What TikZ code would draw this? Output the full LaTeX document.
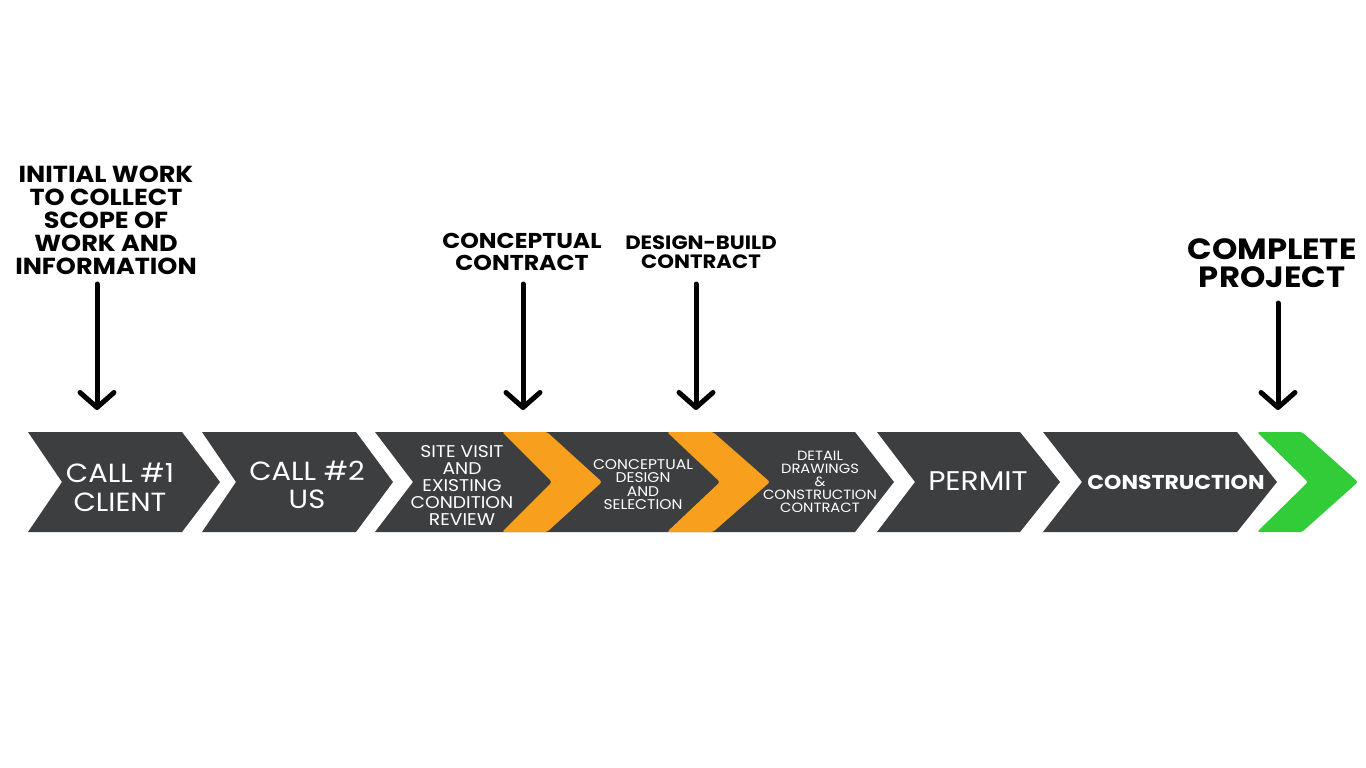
\documentclass[tikz,border=0pt]{standalone}
\usepackage{fontspec}
\setmainfont{Poppins}[FakeStretch=1.1]
\usetikzlibrary{arrows.meta}
\definecolor{stepgrey}{RGB}{61,62,64}
\definecolor{markorange}{RGB}{248,160,30}
\definecolor{donegreen}{RGB}{50,204,56}

\begin{document}
\begin{tikzpicture}[x=1pt,y=-1pt,
  chev/.style={fill=stepgrey,draw=none},
  band/.style={draw=none,rounded corners=2.5},
  steptext/.style={text=white,align=center,inner sep=0pt},
  calltext/.style={text=black,align=center,inner sep=0pt,font=\bfseries},
  pointer/.style={line width=5,line cap=round,-{Straight Barb[length=15pt,width=34pt,line cap=round,line join=round]}}]
%set diagram size to the reference
\useasboundingbox (0,0) rectangle (1366,768);
\fill[white] (0,0) rectangle (1366,768);

%Chevron: call 1
\fill[chev] (28,432) -- (182,432) -- (220,482) -- (182,532) -- (28,532) -- (62,482) -- cycle;
%Chevron: call 2
\fill[chev] (202,432) -- (356,432) -- (393,482) -- (356,532) -- (202,532) -- (236,482) -- cycle;
%Chevron: site visit, design, drawings (one strip)
\fill[chev] (375,432) -- (855,432) -- (894,482) -- (855,532) -- (375,532) -- (413,482) -- cycle;
%Chevron: permit
\fill[chev] (877,432) -- (1020,432) -- (1060,482) -- (1020,532) -- (877,532) -- (915,482) -- cycle;
%Chevron: construction
\fill[chev] (1043,432) -- (1237,432) -- (1277,482) -- (1237,532) -- (1043,532) -- (1082,482) -- cycle;

%Orange bands
\fill[band,markorange] (502,432) -- (547,432) -- (602,482) -- (547,532) -- (502,532) -- (552,482) -- cycle;
\fill[band,markorange] (667,432) -- (713,432) -- (770,482) -- (713,532) -- (667,532) -- (720,482) -- cycle;
%Green band
\fill[band,donegreen] (1257,432) -- (1302,432) -- (1358,482) -- (1302,532) -- (1257,532) -- (1308,482) -- cycle;

% Text Node
\node[steptext,font=\fontsize{26.3}{29}\selectfont] (call1) at (120,487) {CALL \#1\\CLIENT};
% Text Node
\node[steptext,font=\fontsize{26.3}{28}\selectfont] (call2) at (307,485) {CALL \#2\\US};
% Text Node
\node[steptext,font=\fontsize{17}{17}\selectfont] (site) at (462,486) {SITE VISIT\\AND\\EXISTING\\CONDITION\\REVIEW};
% Text Node
\node[steptext,font=\fontsize{14.1}{13.6}\selectfont] (design) at (643,484.5) {CONCEPTUAL\\DESIGN\\AND\\SELECTION};
% Text Node
\node[steptext,font=\fontsize{13.4}{13}\selectfont] (detail) at (820,482) {DETAIL\\DRAWINGS\\\&\\CONSTRUCTION\\CONTRACT};
% Text Node
\node[steptext,font=\fontsize{27}{28}\selectfont] (permit) at (978,481) {PERMIT};
% Text Node
\node[steptext,font=\fontsize{20}{22}\bfseries] (build) at (1176,482) {CONSTRUCTION};

% Text Node
\node[calltext,font=\fontsize{23.2}{23}\bfseries] (initial) at (106,220) {INITIAL WORK\\TO COLLECT\\SCOPE OF\\WORK AND\\INFORMATION};
% Text Node
\node[calltext,font=\fontsize{21.5}{22}\bfseries] (concept) at (522,252) {CONCEPTUAL\\CONTRACT};
% Text Node
\node[calltext,font=\fontsize{19.3}{19}\bfseries] (dbuild) at (701,252.5) {DESIGN-BUILD\\CONTRACT};
% Text Node
\node[calltext,font=\fontsize{29.3}{28}\bfseries] (finish) at (1272,263) {COMPLETE\\PROJECT};

%Arrow ends
\coordinate (initial-s) at (97,284);   \coordinate (initial-e) at (97,410);
\coordinate (concept-s) at (523,284);  \coordinate (concept-e) at (523,410);
\coordinate (dbuild-s) at (696,284);   \coordinate (dbuild-e) at (696,410);
\coordinate (finish-s) at (1278,303);  \coordinate (finish-e) at (1278,410);

%Arrows
\draw[pointer] (initial-s) -- (initial-e);
\draw[pointer] (concept-s) -- (concept-e);
\draw[pointer] (dbuild-s) -- (dbuild-e);
\draw[pointer] (finish-s) -- (finish-e);
\end{tikzpicture}
\end{document}
